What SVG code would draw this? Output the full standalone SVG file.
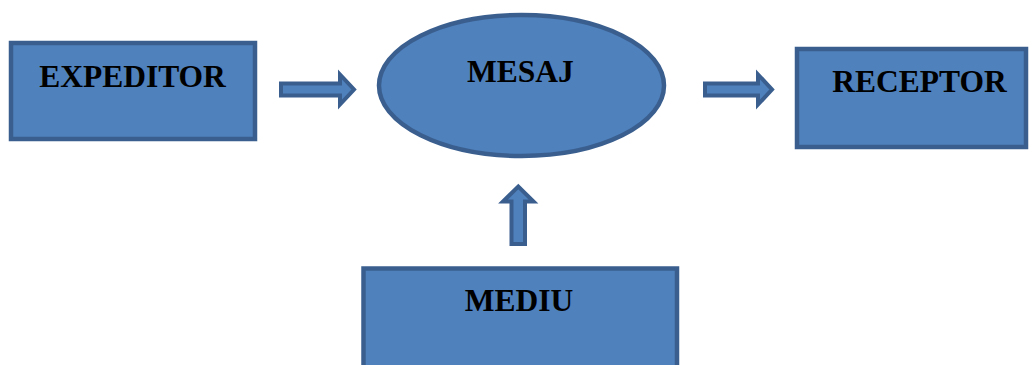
<svg xmlns="http://www.w3.org/2000/svg" width="1030" height="365" viewBox="0 0 1030 365">
<style>
.box{fill:#4F81BD;stroke:#3A5F8F;stroke-width:4.5}
.arr{fill:#4F81BD;stroke:#3A5F8F;stroke-width:4;stroke-linejoin:miter}
.lbl{font-family:"Liberation Serif","Times New Roman",serif;font-weight:bold;font-size:31.5px;fill:#000;text-anchor:middle}
</style>
<rect width="1030" height="365" fill="#fff"/>
<g id="connectors">
<polygon class="arr" points="281,83.5 340,83.5 340,74.5 354,89.5 340,104.5 340,95.5 281,95.5"/>
<polygon class="arr" points="705,83.5 758,83.5 758,74.5 772,89.5 758,104.5 758,95.5 705,95.5"/>
<polygon class="arr" points="511.5,244 511.5,201.5 503,201.5 518.3,186.5 533.5,201.5 525,201.5 525,244"/>
</g>
<g id="expeditor">
<rect class="box" x="11" y="43" width="244" height="96"/>
<text class="lbl" x="132.5" y="87">EXPEDITOR</text>
</g>
<g id="mesaj">
<ellipse class="box" cx="521.5" cy="85.5" rx="142.5" ry="70.5"/>
<text class="lbl" x="520.5" y="81.5">MESAJ</text>
</g>
<g id="receptor">
<rect class="box" x="797" y="49" width="229" height="98"/>
<text class="lbl" x="919.5" y="91.5">RECEPTOR</text>
</g>
<g id="mediu">
<rect class="box" x="363.5" y="268.5" width="313.5" height="110"/>
<text class="lbl" x="519" y="311">MEDIU</text>
</g>
</svg>
